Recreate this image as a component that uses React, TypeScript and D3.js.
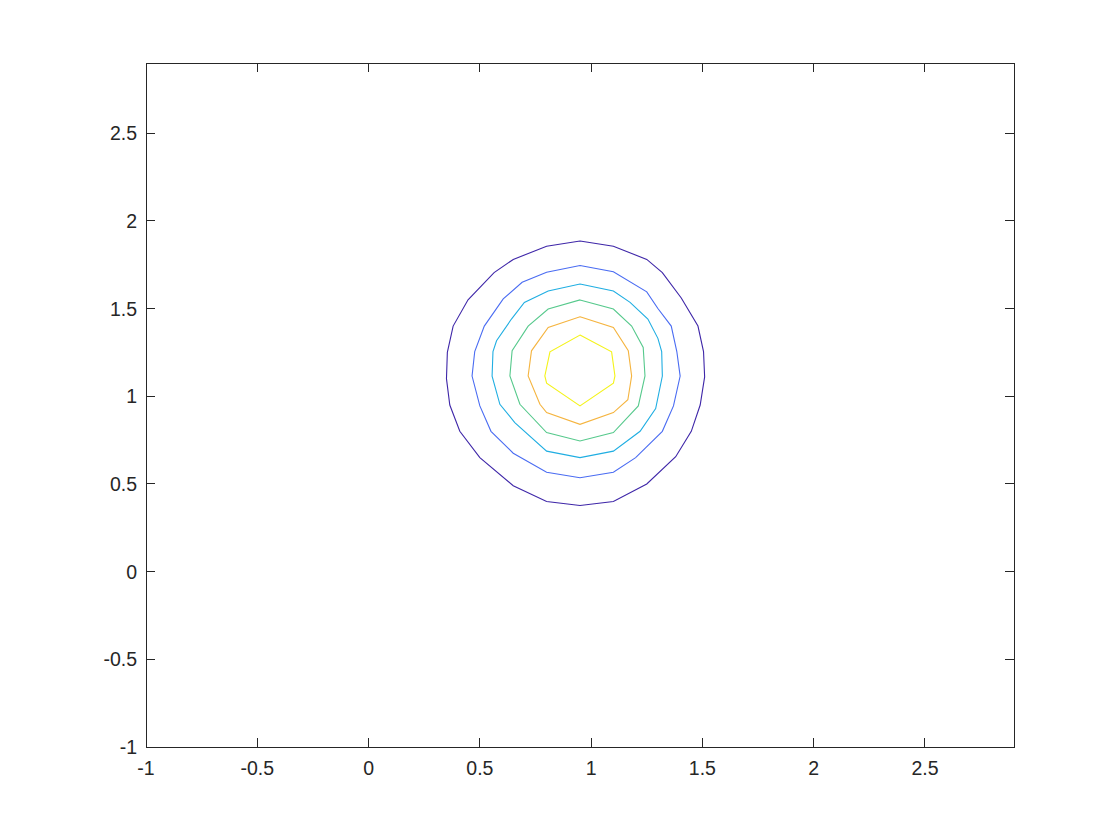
import { useRef, useEffect } from 'react';
import * as d3 from 'd3';

// tick values, both axes
const xTicks = [-1, -0.5, 0, 0.5, 1, 1.5, 2, 2.5];
const yTicks = [-1, -0.5, 0, 0.5, 1, 1.5, 2, 2.5];

// contour polygons, outermost to innermost
const level1 = [
  [0.95, 1.885], [1.10, 1.855], [1.25, 1.78], [1.32, 1.705], [1.405, 1.56], [1.48, 1.40],
  [1.505, 1.255], [1.51, 1.11], [1.49, 0.95], [1.45, 0.80], [1.38, 0.655], [1.25, 0.50],
  [1.10, 0.40], [0.95, 0.377], [0.80, 0.40], [0.65, 0.49], [0.50, 0.65], [0.41, 0.80],
  [0.365, 0.95], [0.35, 1.10], [0.354, 1.25], [0.38, 1.40], [0.447, 1.55], [0.564, 1.705],
  [0.65, 1.78], [0.80, 1.855],
];
const level2 = [
  [0.95, 1.745], [1.10, 1.71], [1.25, 1.595], [1.30, 1.50], [1.36, 1.40], [1.385, 1.255],
  [1.40, 1.115], [1.37, 0.945], [1.32, 0.80], [1.20, 0.65], [1.10, 0.567], [0.95, 0.535],
  [0.80, 0.567], [0.65, 0.675], [0.55, 0.80], [0.50, 0.945], [0.465, 1.115], [0.477, 1.255],
  [0.52, 1.40], [0.605, 1.555], [0.69, 1.65], [0.80, 1.707],
];
const level3 = [
  [0.95, 1.64], [1.10, 1.60], [1.175, 1.535], [1.255, 1.44], [1.30, 1.33], [1.317, 1.255],
  [1.32, 1.115], [1.29, 0.93], [1.22, 0.80], [1.10, 0.687], [0.95, 0.65], [0.80, 0.687],
  [0.657, 0.85], [0.59, 0.954], [0.555, 1.115], [0.559, 1.255], [0.575, 1.316], [0.642, 1.44],
  [0.70, 1.535], [0.807, 1.60],
];
const level4 = [
  [0.95, 1.549], [1.10, 1.497], [1.182, 1.40], [1.234, 1.278], [1.242, 1.116], [1.212, 0.945],
  [1.10, 0.793], [0.95, 0.745], [0.80, 0.793], [0.68, 0.954], [0.635, 1.116], [0.645, 1.259],
  [0.717, 1.40], [0.807, 1.497],
];
const level5 = [
  [0.95, 1.453], [1.10, 1.392], [1.167, 1.259], [1.182, 1.116], [1.165, 0.98], [1.10, 0.907],
  [0.95, 0.84], [0.80, 0.907], [0.77, 0.954], [0.717, 1.116], [0.732, 1.259], [0.807, 1.392],
];
const level6 = [
  [0.95, 1.349], [1.092, 1.253], [1.107, 1.116], [1.10, 1.074], [0.95, 0.945], [0.80, 1.074],
  [0.792, 1.116], [0.815, 1.253],
];

const levels = [level1, level2, level3, level4, level5, level6];
const levelColors = ['#3e26a8', '#4a6cf2', '#20aee2', '#56c98c', '#f5b43f', '#f4f31a'];

const App = () => {
  const svgRef = useRef<SVGSVGElement | null>(null);

  useEffect(() => {
    if (!svgRef.current) return;
    const svg = d3.select(svgRef.current);
    svg.selectAll('*').remove();

    const width = 1120;
    const height = 840;
    const margin = { top: 63, right: 106, bottom: 93, left: 146 };
    const ink = '#262626';
    const tickLen = 8.7;

    const x = d3.scaleLinear().domain([-1, 2.9]).range([margin.left, width - margin.right]);
    const y = d3.scaleLinear().domain([-1, 2.9]).range([height - margin.bottom, margin.top]);

    svg.append('rect')
      .attr('width', width)
      .attr('height', height)
      .attr('fill', '#fff');

    const line = d3.line<number[]>()
      .x(d => x(d[0]))
      .y(d => y(d[1]))
      .curve(d3.curveLinearClosed);

    svg.append('g')
      .selectAll('path')
      .data(levels)
      .enter()
      .append('path')
      .attr('d', d => line(d))
      .attr('fill', 'none')
      .attr('stroke', (d, i) => levelColors[i])
      .attr('stroke-width', 1.1);

    const [x0, x1] = x.range();
    const [y0, y1] = y.range();

    // box
    svg.append('rect')
      .attr('x', x0)
      .attr('y', y1)
      .attr('width', x1 - x0)
      .attr('height', y0 - y1)
      .attr('fill', 'none')
      .attr('stroke', ink)
      .attr('stroke-width', 1)
      .attr('shape-rendering', 'crispEdges');

    const ticks = svg.append('g')
      .attr('stroke', ink)
      .attr('stroke-width', 1)
      .attr('shape-rendering', 'crispEdges');

    xTicks.forEach(t => {
      ticks.append('line').attr('x1', x(t)).attr('x2', x(t)).attr('y1', y0).attr('y2', y0 - tickLen);
      ticks.append('line').attr('x1', x(t)).attr('x2', x(t)).attr('y1', y1).attr('y2', y1 + tickLen);
    });
    yTicks.forEach(t => {
      ticks.append('line').attr('y1', y(t)).attr('y2', y(t)).attr('x1', x0).attr('x2', x0 + tickLen);
      ticks.append('line').attr('y1', y(t)).attr('y2', y(t)).attr('x1', x1).attr('x2', x1 - tickLen);
    });

    const labels = svg.append('g')
      .attr('font-family', '"Liberation Sans", Arial, Helvetica, sans-serif')
      .attr('font-size', 19.5)
      .attr('fill', ink);

    labels.selectAll('.xlab')
      .data(xTicks)
      .enter()
      .append('text')
      .attr('class', 'xlab')
      .attr('x', d => x(d))
      .attr('y', y0 + 28)
      .attr('text-anchor', 'middle')
      .text(d => String(d));

    labels.selectAll('.ylab')
      .data(yTicks)
      .enter()
      .append('text')
      .attr('class', 'ylab')
      .attr('x', x0 - 9)
      .attr('y', d => y(d) + 7)
      .attr('text-anchor', 'end')
      .text(d => String(d));
  }, []);

  return (
    <div style={{ position: 'absolute', left: 0, top: 0 }}>
      <svg ref={svgRef} width={1120} height={840} style={{ display: 'block' }} />
    </div>
  );
};

export default App;
